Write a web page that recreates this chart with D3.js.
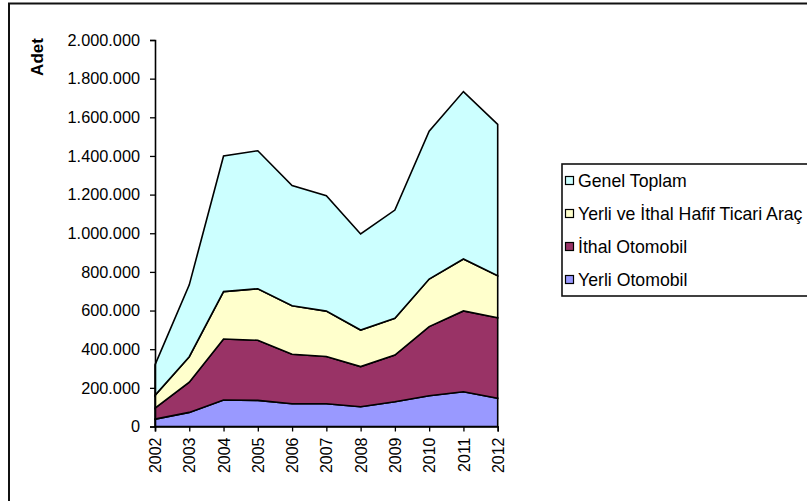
<!DOCTYPE html>
<html>
<head>
<meta charset="utf-8">
<script src="https://cdn.jsdelivr.net/npm/d3@7"></script>
<style>
  html, body { margin: 0; padding: 0; background: #fff; overflow: hidden; }
  svg { display: block; font-family: "Liberation Sans", Arial, sans-serif; }
</style>
</head>
<body>
<svg id="chart" width="807" height="501"></svg>
<script>
const years = ["2002","2003","2004","2005","2006","2007","2008","2009","2010","2011","2012"];
const yerliOtomobil = [38000, 73000, 137000, 135000, 118000, 118000, 102000, 128000, 159000, 180000, 146000];
const ithalOtomobil = [57000, 156000, 316000, 311000, 256000, 244000, 208000, 242000, 358000, 418000, 417000];
const hafifTicari   = [66000, 132000, 245000, 267000, 251000, 235000, 189000, 190000, 246000, 269000, 217000];
const genelToplam   = [158000, 372000, 702000, 714000, 622000, 597000, 497000, 560000, 765000, 866000, 783000];
const seriesNames = ["Yerli Otomobil", "İthal Otomobil", "Yerli ve İthal Hafif Ticari Araç", "Genel Toplam"];
const seriesColors = ["#9999FF", "#993366", "#FFFFCC", "#CCFFFF"];
const yTicks = [0, 200000, 400000, 600000, 800000, 1000000, 1200000, 1400000, 1600000, 1800000, 2000000];
const yLabel = "Adet";

const svg = d3.select("#chart");
const values = [yerliOtomobil, ithalOtomobil, hafifTicari, genelToplam];
const rows = years.map((y, i) => {
  const r = { year: y };
  seriesNames.forEach((n, k) => r[n] = values[k][i]);
  return r;
});

const x = d3.scalePoint().domain(years).range([155, 497.7]);
const y = d3.scaleLinear().domain([0, 2000000]).range([426.5, 40]);

// outer chart border
svg.append("rect").attr("x", 9).attr("y", 3.5).attr("width", 900).attr("height", 600)
  .attr("fill", "#fff").attr("stroke", "#111").attr("stroke-width", 2);

const stack = d3.stack().keys(seriesNames);
const layers = stack(rows);
const area = d3.area().x(d => x(d.data.year)).y0(d => y(d[0])).y1(d => y(d[1]));

svg.append("g").selectAll("path").data(layers).join("path")
  .attr("d", area)
  .attr("fill", (d, i) => seriesColors[i])
  .attr("stroke", "#000").attr("stroke-width", 1.6).attr("stroke-linejoin", "miter");

const loc = d3.formatLocale({ decimal: ",", thousands: ".", grouping: [3], currency: ["", ""] });
const fmt = loc.format(",d");

const yAxis = svg.append("g").attr("transform", "translate(155,0)")
  .call(d3.axisLeft(y).tickValues(yTicks).tickFormat(fmt).tickSizeOuter(0).tickSize(5).tickPadding(10));
yAxis.select(".domain").attr("stroke", "#000").attr("stroke-width", 1.6);
yAxis.selectAll(".tick line").attr("stroke", "#000").attr("stroke-width", 1.3);
yAxis.selectAll(".tick text").attr("font-size", 16.3).attr("fill", "#000")
  .attr("font-family", "Liberation Sans, Arial, sans-serif");

const xAxis = svg.append("g").attr("transform", "translate(0,426.5)")
  .call(d3.axisBottom(x).tickSizeOuter(0).tickSize(5));
xAxis.select(".domain").attr("stroke", "#000").attr("stroke-width", 1.6);
xAxis.selectAll(".tick line").attr("stroke", "#000").attr("stroke-width", 1.3);
xAxis.selectAll(".tick text")
  .attr("font-size", 16).attr("fill", "#000")
  .attr("font-family", "Liberation Sans, Arial, sans-serif")
  .attr("transform", "rotate(-90)")
  .attr("text-anchor", "end")
  .attr("x", -11).attr("y", 0).attr("dy", "0.35em");

svg.append("text")
  .attr("transform", "translate(37,57) rotate(-90)")
  .attr("text-anchor", "middle").attr("dy", "0.35em")
  .attr("font-size", 17).attr("font-weight", "bold").attr("fill", "#000")
  .text(yLabel);

// legend
const lg = svg.append("g");
lg.append("rect").attr("x", 562).attr("y", 164).attr("width", 400).attr("height", 132)
  .attr("fill", "#fff").attr("stroke", "#111").attr("stroke-width", 1.6);
const legendOrder = [3, 2, 1, 0];
legendOrder.forEach((k, j) => {
  const cy = 180.5 + j * 33;
  lg.append("rect").attr("x", 565.5).attr("y", cy - 4).attr("width", 8).attr("height", 8)
    .attr("fill", seriesColors[k]).attr("stroke", "#000").attr("stroke-width", 1.2);
  lg.append("text").attr("x", 578).attr("y", cy).attr("dy", "0.35em")
    .attr("font-size", 17.7).attr("fill", "#000").text(seriesNames[k]);
});
</script>
</body>
</html>
